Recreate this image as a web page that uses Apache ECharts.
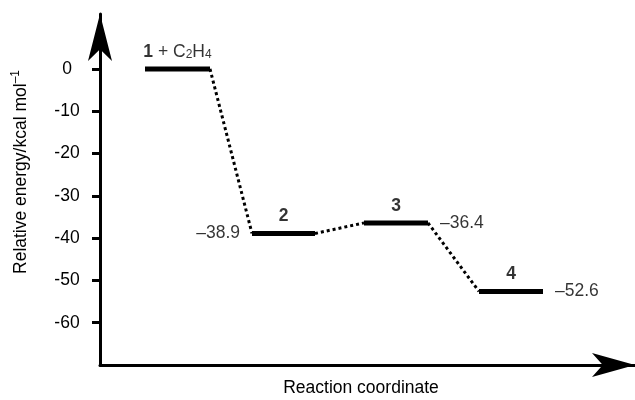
<!DOCTYPE html>
<html>
<head>
<meta charset="utf-8">
<script src="https://cdn.jsdelivr.net/npm/echarts@6/dist/echarts.min.js"></script>
<style>
  html, body { margin: 0; padding: 0; background: #fff; }
  #chart { width: 635px; height: 400px; }
</style>
</head>
<body>
<div id="chart"></div>
<script>
// energy levels along the reaction coordinate
var levelNames = ['1', '2', '3', '4'];
var energies = [0, -38.9, -36.4, -52.6];
var levelStart = [45, 152, 264, 379];
var levelEnd = [110, 215, 328, 443];
var yTicks = [0, -10, -20, -30, -40, -50, -60];

var font = '"Liberation Sans", Arial, Helvetica, sans-serif';
var black = '#000';
var fs = 17.5;

var series = [];
for (var i = 0; i < energies.length; i++) {
  // the level bar
  series.push({
    type: 'line',
    silent: true,
    symbol: 'none',
    data: [[levelStart[i], energies[i]], [levelEnd[i], energies[i]]],
    lineStyle: { color: black, width: 5 }
  });
  // dotted connector to the next level
  if (i < energies.length - 1) {
    series.push({
      type: 'line',
      silent: true,
      symbol: 'none',
      data: [[levelEnd[i], energies[i]], [levelStart[i + 1], energies[i + 1]]],
      lineStyle: { color: black, width: 3, type: [3, 3] }
    });
  }
}

// bold names above the bars
series.push({
  type: 'scatter',
  silent: true,
  symbolSize: 0,
  data: levelNames.map(function (n, i) {
    return { name: n, value: [(levelStart[i] + levelEnd[i]) / 2, energies[i]] };
  }),
  label: {
    show: true,
    position: 'top',
    distance: 8,
    color: black,
    fontFamily: font,
    fontSize: fs,
    formatter: function (p) {
      if (p.dataIndex === 0) return '{b|1} + C{s|2}H{s|4}';
      return '{b|' + p.name + '}';
    },
    rich: {
      b: { fontWeight: 'bold', fontSize: fs, fontFamily: font, color: black },
      s: { fontSize: 12, fontFamily: font, color: black, verticalAlign: 'bottom', lineHeight: 12 }
    }
  }
});

// energy values beside bars 2-4
var valData = [];
for (var j = 1; j < energies.length; j++) {
  var side = j === 1 ? 'left' : 'right';
  valData.push({
    value: [side === 'left' ? levelStart[j] : levelEnd[j], energies[j]],
    label: { position: side }
  });
}
series.push({
  type: 'scatter',
  silent: true,
  symbolSize: 0,
  data: valData,
  label: {
    show: true,
    distance: 12,
    color: black,
    fontFamily: font,
    fontSize: fs,
    formatter: function (p) {
      return '\u2013' + Math.abs(p.value[1]).toFixed(1);
    }
  }
});

var chart = echarts.init(document.getElementById('chart'));
chart.setOption({
  animation: false,
  backgroundColor: '#fff',
  grid: { left: 100, right: 0, top: 14, bottom: 35, outerBoundsMode: 'none', containLabel: false },
  xAxis: {
    type: 'value',
    min: 0,
    max: 535,
    name: 'Reaction coordinate',
    nameLocation: 'middle',
    nameGap: 14,
    nameTextStyle: { color: black, fontFamily: font, fontSize: fs, padding: [0, 13, 0, 0] },
    axisLine: {
      onZero: false,
      symbol: ['none', 'arrow'],
      symbolSize: [18, 43],
      lineStyle: { color: black, width: 3 }
    },
    axisTick: { show: false },
    axisLabel: { show: false },
    splitLine: { show: false }
  },
  yAxis: {
    type: 'value',
    min: -70,
    max: 13,
    name: '{m|Relative energy/kcal mol}{sup|\u20131}',
    nameLocation: 'middle',
    nameGap: 68,
    nameTextStyle: {
      color: black,
      fontFamily: font,
      fontSize: fs,
      padding: [0, 0, 0, 35],
      rich: {
        m: { fontSize: fs, fontFamily: font, color: black, lineHeight: 22 },
        sup: { fontSize: 12, fontFamily: font, color: black, verticalAlign: 'top', lineHeight: 12 }
      }
    },
    axisLine: {
      onZero: false,
      symbol: ['none', 'arrow'],
      symbolSize: [18, 47],
      lineStyle: { color: black, width: 3 }
    },
    axisTick: {
      customValues: yTicks,
      length: 8,
      lineStyle: { color: black, width: 3 }
    },
    axisLabel: {
      customValues: yTicks,
      margin: 33,
      align: 'center',
      color: black,
      fontFamily: font,
      fontSize: fs
    },
    splitLine: { show: false }
  },
  series: series
});
</script>
</body>
</html>
